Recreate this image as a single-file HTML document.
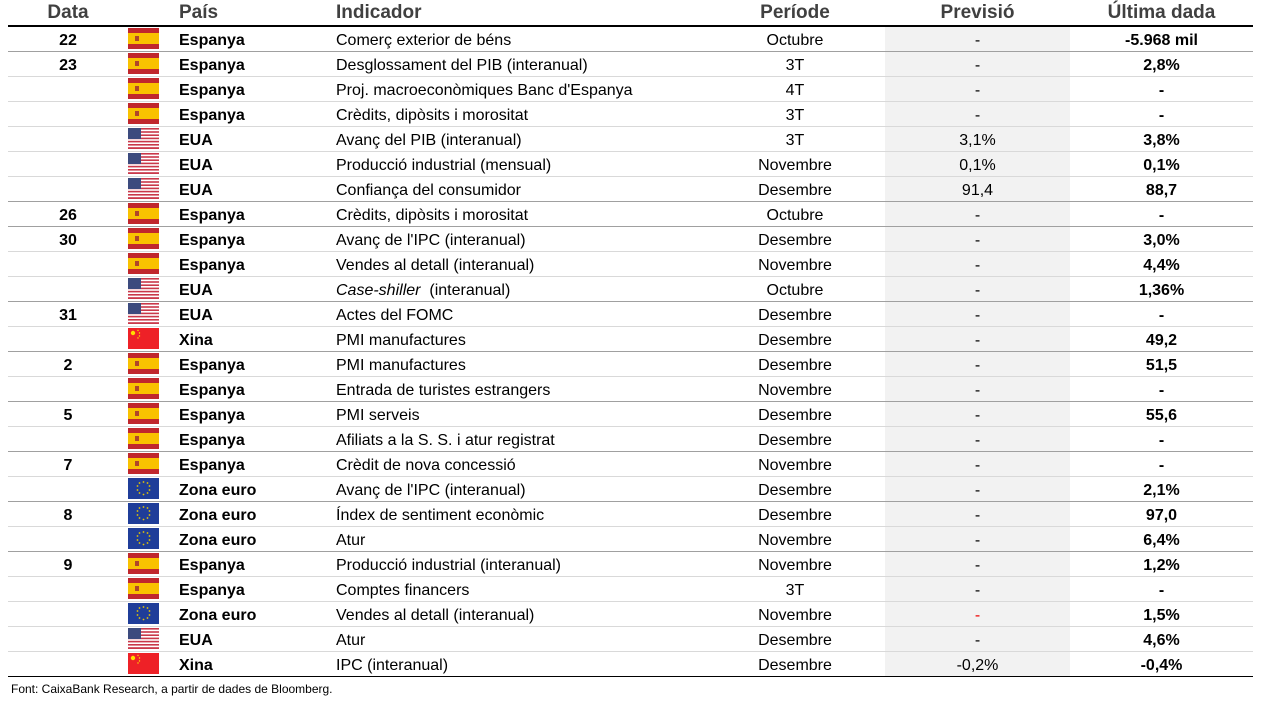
<!DOCTYPE html>
<html><head><meta charset="utf-8"><style>
body{margin:0;width:1272px;height:702px;background:#fff;font-family:"Liberation Sans",sans-serif;position:relative;overflow:hidden}
table{position:absolute;left:8px;top:0;border-collapse:collapse;table-layout:fixed;width:1245px}
td,th{padding:0;white-space:nowrap;font-size:16px;color:#000;border-bottom:1px solid #d9d9d9}
td{padding-top:3px;height:21px;line-height:21px;vertical-align:top}
td.fc{padding-top:0;height:24px}
th{font-size:19px;color:#404040;height:25px;line-height:25px;border-bottom:2px solid #000}
tr.g td{border-bottom:1px solid #a0a0a0}
tr.last td{border-bottom:1.5px solid #000}
.d{text-align:center;font-weight:bold}
.p{font-weight:bold;padding-left:9px}
.i{padding-left:6px}
.c{text-align:center}
td.f{background:#f2f2f2;text-align:center}
th.f{background:#fff}
.u{text-align:center;font-weight:bold}
svg.fl{display:block;width:31px;height:21px;margin-top:1px}
.foot{position:absolute;left:11px;top:682px;font-size:12px;color:#000}
</style></head><body>
<svg width="0" height="0" style="position:absolute">
<defs>
<symbol id="es" viewBox="0 0 31 21"><rect width="31" height="21" fill="#c0272d"/><rect y="5" width="31" height="11" fill="#f9c200"/><rect x="7" y="8" width="4" height="5" fill="#b0452a"/></symbol>
<symbol id="us" viewBox="0 0 31 21"><rect width="31" height="21" fill="#fff"/><g fill="#c9384a"><rect y="0" width="31" height="1.6"/><rect y="3.2" width="31" height="1.6"/><rect y="6.4" width="31" height="1.6"/><rect y="9.6" width="31" height="1.6"/><rect y="12.8" width="31" height="1.6"/><rect y="16" width="31" height="1.6"/><rect y="19.2" width="31" height="1.8"/></g><rect width="13" height="11" fill="#3c4b7e"/></symbol>
<symbol id="cn" viewBox="0 0 31 21"><rect width="31" height="21" fill="#ee2127"/><circle cx="5" cy="5" r="2.2" fill="#ffde00"/><circle cx="10" cy="2.5" r=".7" fill="#ffde00"/><circle cx="11.5" cy="5" r=".7" fill="#ffde00"/><circle cx="11.5" cy="8" r=".7" fill="#ffde00"/><circle cx="10" cy="10" r=".7" fill="#ffde00"/></symbol>
<symbol id="eu" viewBox="0 0 31 21"><rect width="31" height="21" fill="#1f3d99"/><g fill="#e5c400"><circle cx="15.5" cy="4" r=".9"/><circle cx="19.5" cy="5" r=".9"/><circle cx="21.5" cy="8" r=".9"/><circle cx="21.5" cy="12" r=".9"/><circle cx="19.5" cy="15" r=".9"/><circle cx="15.5" cy="16.5" r=".9"/><circle cx="11.5" cy="15" r=".9"/><circle cx="9.5" cy="12" r=".9"/><circle cx="9.5" cy="8" r=".9"/><circle cx="11.5" cy="5" r=".9"/></g></symbol>
</defs></svg>
<table>
<colgroup><col style="width:120px"><col style="width:42px"><col style="width:160px"><col style="width:375px"><col style="width:180px"><col style="width:185px"><col style="width:183px"></colgroup>
<tr><th>Data</th><th></th><th style="text-align:left;padding-left:9px">País</th><th style="text-align:left;padding-left:6px">Indicador</th><th>Període</th><th class="f">Previsió</th><th>Última dada</th></tr>
<tr class="g"><td class="d">22</td><td class="fc"><svg class="fl"><use href="#es"/></svg></td><td class="p">Espanya</td><td class="i">Comerç exterior de béns</td><td class="c">Octubre</td><td class="f">-</td><td class="u">-5.968 mil</td></tr>
<tr><td class="d">23</td><td class="fc"><svg class="fl"><use href="#es"/></svg></td><td class="p">Espanya</td><td class="i">Desglossament del PIB (interanual)</td><td class="c">3T</td><td class="f">-</td><td class="u">2,8%</td></tr>
<tr><td></td><td class="fc"><svg class="fl"><use href="#es"/></svg></td><td class="p">Espanya</td><td class="i">Proj. macroeconòmiques Banc d'Espanya</td><td class="c">4T</td><td class="f">-</td><td class="u">-</td></tr>
<tr><td></td><td class="fc"><svg class="fl"><use href="#es"/></svg></td><td class="p">Espanya</td><td class="i">Crèdits, dipòsits i morositat</td><td class="c">3T</td><td class="f">-</td><td class="u">-</td></tr>
<tr><td></td><td class="fc"><svg class="fl"><use href="#us"/></svg></td><td class="p">EUA</td><td class="i">Avanç del PIB (interanual)</td><td class="c">3T</td><td class="f">3,1%</td><td class="u">3,8%</td></tr>
<tr><td></td><td class="fc"><svg class="fl"><use href="#us"/></svg></td><td class="p">EUA</td><td class="i">Producció industrial (mensual)</td><td class="c">Novembre</td><td class="f">0,1%</td><td class="u">0,1%</td></tr>
<tr class="g"><td></td><td class="fc"><svg class="fl"><use href="#us"/></svg></td><td class="p">EUA</td><td class="i">Confiança del consumidor</td><td class="c">Desembre</td><td class="f">91,4</td><td class="u">88,7</td></tr>
<tr class="g"><td class="d">26</td><td class="fc"><svg class="fl"><use href="#es"/></svg></td><td class="p">Espanya</td><td class="i">Crèdits, dipòsits i morositat</td><td class="c">Octubre</td><td class="f">-</td><td class="u">-</td></tr>
<tr><td class="d">30</td><td class="fc"><svg class="fl"><use href="#es"/></svg></td><td class="p">Espanya</td><td class="i">Avanç de l'IPC (interanual)</td><td class="c">Desembre</td><td class="f">-</td><td class="u">3,0%</td></tr>
<tr><td></td><td class="fc"><svg class="fl"><use href="#es"/></svg></td><td class="p">Espanya</td><td class="i">Vendes al detall (interanual)</td><td class="c">Novembre</td><td class="f">-</td><td class="u">4,4%</td></tr>
<tr class="g"><td></td><td class="fc"><svg class="fl"><use href="#us"/></svg></td><td class="p">EUA</td><td class="i"><i>Case-shiller</i>&nbsp; (interanual)</td><td class="c">Octubre</td><td class="f">-</td><td class="u">1,36%</td></tr>
<tr><td class="d">31</td><td class="fc"><svg class="fl"><use href="#us"/></svg></td><td class="p">EUA</td><td class="i">Actes del FOMC</td><td class="c">Desembre</td><td class="f">-</td><td class="u">-</td></tr>
<tr class="g"><td></td><td class="fc"><svg class="fl"><use href="#cn"/></svg></td><td class="p">Xina</td><td class="i">PMI manufactures</td><td class="c">Desembre</td><td class="f">-</td><td class="u">49,2</td></tr>
<tr><td class="d">2</td><td class="fc"><svg class="fl"><use href="#es"/></svg></td><td class="p">Espanya</td><td class="i">PMI manufactures</td><td class="c">Desembre</td><td class="f">-</td><td class="u">51,5</td></tr>
<tr class="g"><td></td><td class="fc"><svg class="fl"><use href="#es"/></svg></td><td class="p">Espanya</td><td class="i">Entrada de turistes estrangers</td><td class="c">Novembre</td><td class="f">-</td><td class="u">-</td></tr>
<tr><td class="d">5</td><td class="fc"><svg class="fl"><use href="#es"/></svg></td><td class="p">Espanya</td><td class="i">PMI serveis</td><td class="c">Desembre</td><td class="f">-</td><td class="u">55,6</td></tr>
<tr class="g"><td></td><td class="fc"><svg class="fl"><use href="#es"/></svg></td><td class="p">Espanya</td><td class="i">Afiliats a la S. S. i atur registrat</td><td class="c">Desembre</td><td class="f">-</td><td class="u">-</td></tr>
<tr><td class="d">7</td><td class="fc"><svg class="fl"><use href="#es"/></svg></td><td class="p">Espanya</td><td class="i">Crèdit de nova concessió</td><td class="c">Novembre</td><td class="f">-</td><td class="u">-</td></tr>
<tr class="g"><td></td><td class="fc"><svg class="fl"><use href="#eu"/></svg></td><td class="p">Zona euro</td><td class="i">Avanç de l'IPC (interanual)</td><td class="c">Desembre</td><td class="f">-</td><td class="u">2,1%</td></tr>
<tr><td class="d">8</td><td class="fc"><svg class="fl"><use href="#eu"/></svg></td><td class="p">Zona euro</td><td class="i">Índex de sentiment econòmic</td><td class="c">Desembre</td><td class="f">-</td><td class="u">97,0</td></tr>
<tr class="g"><td></td><td class="fc"><svg class="fl"><use href="#eu"/></svg></td><td class="p">Zona euro</td><td class="i">Atur</td><td class="c">Novembre</td><td class="f">-</td><td class="u">6,4%</td></tr>
<tr><td class="d">9</td><td class="fc"><svg class="fl"><use href="#es"/></svg></td><td class="p">Espanya</td><td class="i">Producció industrial (interanual)</td><td class="c">Novembre</td><td class="f">-</td><td class="u">1,2%</td></tr>
<tr><td></td><td class="fc"><svg class="fl"><use href="#es"/></svg></td><td class="p">Espanya</td><td class="i">Comptes financers</td><td class="c">3T</td><td class="f">-</td><td class="u">-</td></tr>
<tr><td></td><td class="fc"><svg class="fl"><use href="#eu"/></svg></td><td class="p">Zona euro</td><td class="i">Vendes al detall (interanual)</td><td class="c">Novembre</td><td class="f" style="color:#e00">-</td><td class="u">1,5%</td></tr>
<tr><td></td><td class="fc"><svg class="fl"><use href="#us"/></svg></td><td class="p">EUA</td><td class="i">Atur</td><td class="c">Desembre</td><td class="f">-</td><td class="u">4,6%</td></tr>
<tr class="last"><td></td><td class="fc"><svg class="fl"><use href="#cn"/></svg></td><td class="p">Xina</td><td class="i">IPC (interanual)</td><td class="c">Desembre</td><td class="f">-0,2%</td><td class="u">-0,4%</td></tr>
</table>
<div class="foot">Font: CaixaBank Research, a partir de dades de Bloomberg.</div>
</body></html>
